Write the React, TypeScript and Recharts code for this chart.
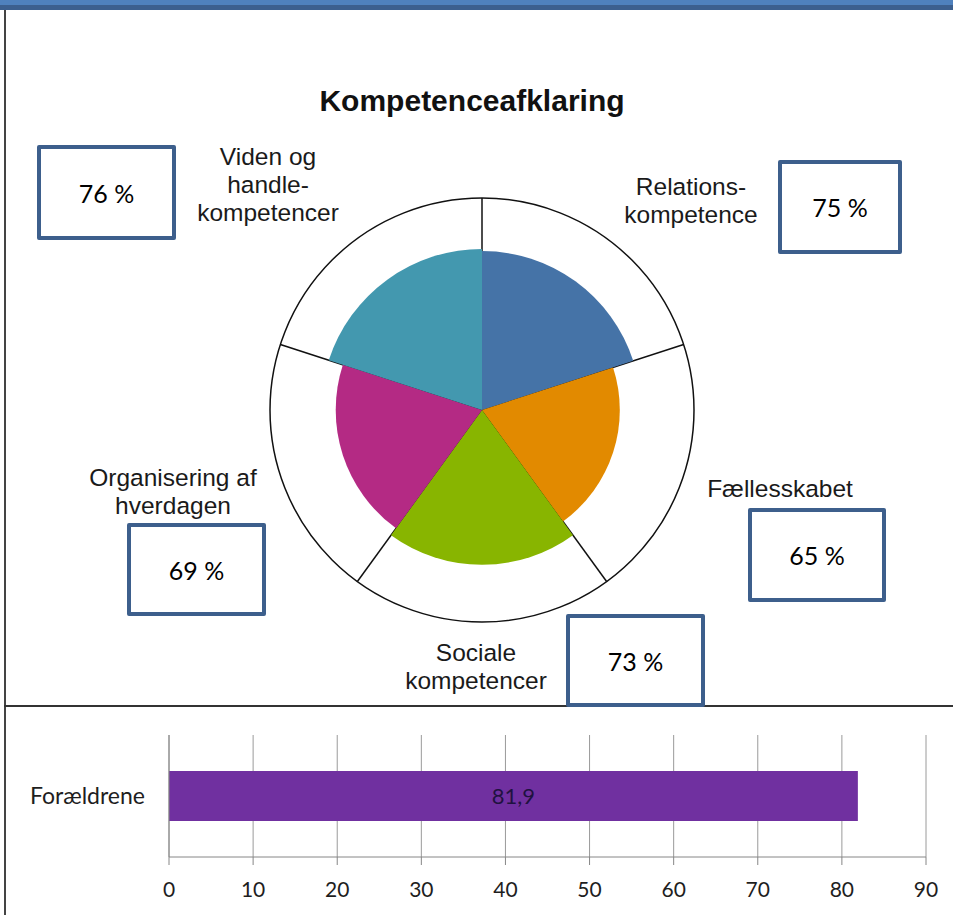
import React from 'react';
import {
  RadialBarChart,
  RadialBar,
  PolarGrid,
  PolarAngleAxis,
  PolarRadiusAxis,
  Cell,
  BarChart,
  Bar,
  XAxis,
  YAxis,
  CartesianGrid,
  LabelList,
} from 'recharts';

// polar chart data (clockwise from 12 o'clock)
const categories = [
  'Relations-\nkompetence',
  'Fællesskabet',
  'Sociale\nkompetencer',
  'Organisering af\nhverdagen',
  'Viden og\nhandle-\nkompetencer',
];
const percentages = [75, 65, 73, 69, 76];
const sectorColors = ['#4573a7', '#e28a00', '#88b500', '#b42a84', '#4398af'];

// bar chart data
const barCategories = ['Forældrene'];
const barValues = [81.9];
const barTicks = [0, 10, 20, 30, 40, 50, 60, 70, 80, 90];

// layout for labels / value boxes (same order as categories)
const labelPos = [
  { x: 691, y: 195 },
  { x: 780, y: 497 },
  { x: 476, y: 661 },
  { x: 173, y: 486 },
  { x: 268, y: 165 },
];
const boxPos = [
  { x: 778, y: 160, w: 124, h: 94 },
  { x: 748, y: 508, w: 138, h: 94 },
  { x: 566, y: 614, w: 139, h: 93 },
  { x: 127, y: 523, w: 139, h: 93 },
  { x: 37, y: 145, w: 139, h: 95 },
];

const polarData = categories.map((name, i) => ({ name, value: percentages[i] }));
const barData = barCategories.map((name, i) => ({ name, value: barValues[i] }));

const CX = 482;
const CY = 410;
const OUTER = 212;
const step = 360 / categories.length;
const gridAngles = categories.map((_, i) => 90 - i * step);

const labelFont = '"Liberation Sans", Arial, sans-serif';
const boxFont = 'Lato, "Open Sans", sans-serif';
const barFont = 'Lato, sans-serif';

export default function App() {
  return (
    <div
      style={{
        position: 'absolute',
        left: 0,
        top: 0,
        width: 953,
        height: 915,
        background: '#fff',
        overflow: 'hidden',
      }}
    >
      {/* page frame */}
      <div style={{ position: 'absolute', left: 0, top: 0, width: 953, height: 5, background: '#4f81bd' }} />
      <div style={{ position: 'absolute', left: 0, top: 5, width: 953, height: 5, background: '#3c5f8e' }} />
      <div style={{ position: 'absolute', left: 4, top: 10, width: 2, height: 905, background: '#444' }} />
      <div style={{ position: 'absolute', left: 4, top: 705, width: 949, height: 2, background: '#333' }} />

      <div style={{ position: 'absolute', left: 0, top: 0 }}>
        <RadialBarChart
          width={953}
          height={705}
          data={polarData}
          layout="centric"
          cx={CX}
          cy={CY}
          innerRadius={0}
          outerRadius={OUTER}
          startAngle={90 - step}
          endAngle={90 - step - 360}
          barCategoryGap={0}
          barGap={0}
        >
          <PolarGrid
            gridType="circle"
            polarRadius={[OUTER]}
            polarAngles={gridAngles}
            stroke="#111"
            strokeWidth={1.5}
          />
          <PolarAngleAxis type="category" dataKey="name" scale="band" tick={false} axisLine={false} tickLine={false} />
          <PolarRadiusAxis type="number" domain={[0, 100]} tick={false} axisLine={false} tickLine={false} />
          <RadialBar dataKey="value" isAnimationActive={false}>
            {polarData.map((d, i) => (
              <Cell key={d.name} fill={sectorColors[i]} />
            ))}
          </RadialBar>
        </RadialBarChart>
      </div>

      {/* title and category labels */}
      <svg
        width={953}
        height={705}
        style={{ position: 'absolute', left: 0, top: 0, pointerEvents: 'none' }}
      >
        <text
          x={472}
          y={111}
          textAnchor="middle"
          fontFamily={labelFont}
          fontWeight="bold"
          fontSize={30}
          fill="#111"
        >
          Kompetenceafklaring
        </text>
        {categories.map((c, i) => (
          <text
            key={c}
            x={labelPos[i].x}
            y={labelPos[i].y}
            textAnchor="middle"
            fontFamily={labelFont}
            fontSize={24.5}
            fill="#1a1a1a"
          >
            {c.split('\n').map((line, j) => (
              <tspan key={j} x={labelPos[i].x} dy={j === 0 ? 0 : 28}>
                {line}
              </tspan>
            ))}
          </text>
        ))}
      </svg>

      {/* value boxes */}
      {percentages.map((p, i) => (
        <div
          key={i}
          style={{
            position: 'absolute',
            left: boxPos[i].x,
            top: boxPos[i].y,
            width: boxPos[i].w,
            height: boxPos[i].h,
            boxSizing: 'border-box',
            border: '4px solid #3d5f8c',
            borderRadius: 2,
            background: '#fff',
            display: 'flex',
            alignItems: 'center',
            justifyContent: 'center',
            fontFamily: boxFont,
            fontSize: 25,
            color: '#000',
          }}
        >
          {p} %
        </div>
      ))}

      <div style={{ position: 'absolute', left: 0, top: 715 }}>
        <BarChart
          width={953}
          height={200}
          data={barData}
          layout="vertical"
          margin={{ top: 20, right: 27, bottom: 0, left: 0 }}
        >
          <CartesianGrid horizontal={false} stroke="#9a9a9a" />
          <XAxis
            type="number"
            domain={[0, 90]}
            ticks={barTicks}
            height={58}
            tickSize={8}
            tickMargin={17}
            stroke="#868686"
            tick={{ fill: '#1e1e1e', fontSize: 21, fontFamily: barFont }}
          />
          <YAxis
            type="category"
            dataKey="name"
            width={169}
            tickLine={false}
            tickSize={0}
            tickMargin={24}
            stroke="#868686"
            tick={{ fill: '#1e1e1e', fontSize: 23, fontFamily: barFont }}
          />
          <Bar dataKey="value" fill="#7030a0" barSize={50} isAnimationActive={false}>
            <LabelList
              dataKey="value"
              position="center"
              formatter={(v: number) => v.toFixed(1).replace('.', ',')}
              fill="#1f1240"
              fontSize={22}
              fontFamily={barFont}
            />
          </Bar>
        </BarChart>
      </div>
    </div>
  );
}
